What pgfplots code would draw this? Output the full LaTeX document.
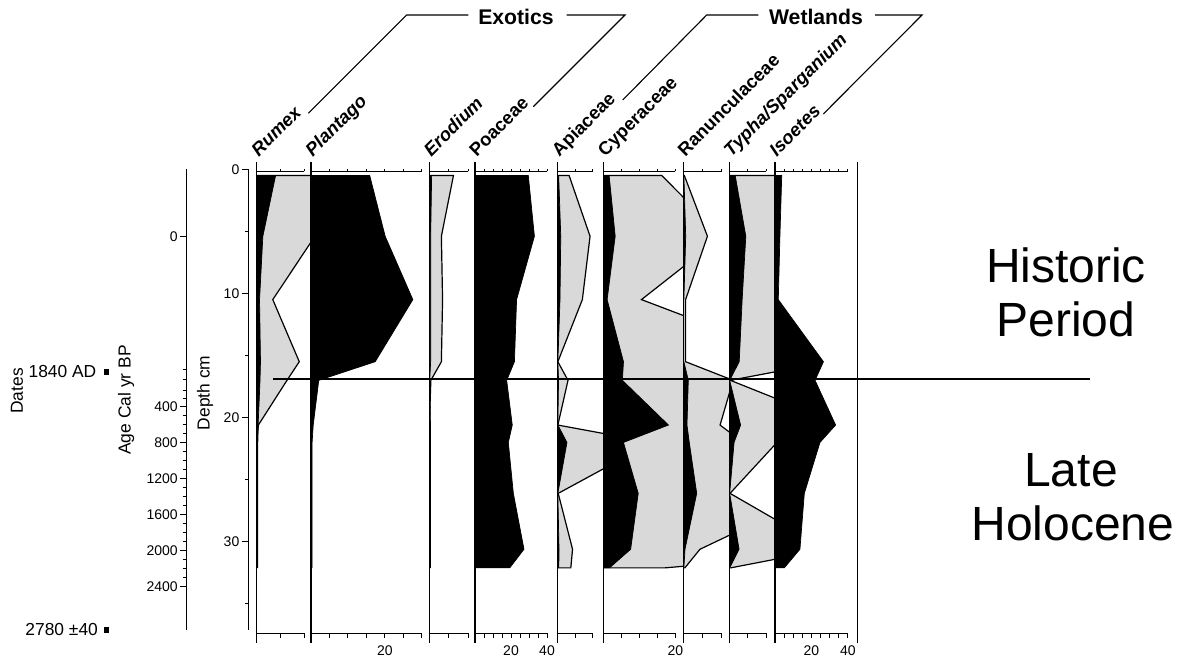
\documentclass[border=0pt]{standalone}
\usepackage{pgfplots}
\pgfplotsset{compat=1.18}
\usepackage{pgfplotstable}
\usepackage{fontspec}
\setmainfont{Liberation Sans}

\newcommand{\tickfont}{\fontsize{7}{8}\selectfont}
\newcommand{\labfont}{\fontsize{8.7}{10}\selectfont}
\newcommand{\taxfont}{\fontsize{9.2}{10}\selectfont\bfseries}

% depth (cm) | value | value x10 (exaggeration curve)
\pgfplotstableread{
d b g
0.5 0 0
0.5 4.0 42
5.4 1.3 12.3
10.5 0.6 3.4
15.5 0.8 9.0
17.0 0.7 6.4
20.6 0.3 0.35
22.0 0.25 0
26.1 0.25 0
30.6 0.25 0
32.1 0.25 0
32.1 0 0
}\rumex
\pgfplotstableread{
d b
0.5 0
0.5 15.9
5.4 20.1
10.5 27.6
15.5 17.4
17.0 2.1
20.6 0.6
22.0 0.3
26.1 0.3
30.6 0.3
32.1 0.3
32.1 0
}\plantago
\pgfplotstableread{
d b g
0.5 0 0
0.5 0.6 6.2
5.4 0.35 3.1
10.5 0.35 3.4
15.5 0.35 3.1
17.0 0.1 0.4
20.6 0.3 0
22.0 0.3 0
26.1 0.3 0
30.6 0.3 0
32.1 0.3 0
32.1 0 0
}\erodium
\pgfplotstableread{
d b
0.5 0
0.5 29.6
5.4 33.0
10.5 23.1
15.5 21.9
17.0 17.6
20.6 20.7
22.0 18.5
26.1 21.3
30.6 27.2
32.1 19.3
32.1 0
}\poaceae
\pgfplotstableread{
d b g
0.5 0 0
0.5 0.33 3.3
5.4 0.93 9.3
10.5 0.71 7.1
15.5 0.1 0.1
17.0 0.3 3.0
20.6 0.1 0.1
22.0 2.7 27
26.1 0.1 0.2
30.6 0.43 4.3
32.1 0.38 3.8
32.1 0 0
}\apiaceae
\pgfplotstableread{
d b g
0.5 0 0
0.5 1.62 16.2
5.4 3.3 33
10.5 1.06 10.6
15.5 5.6 56
17.0 5.3 53
20.6 18.1 181
22.0 5.6 56
26.1 9.7 97
30.6 7.6 76
32.1 1.71 17.1
32.1 0 0
}\cyperaceae
\pgfplotstableread{
d b g
0.5 0 0
0.5 0.15 0.26
5.4 0.63 6.3
10.5 0.15 0.6
15.5 0.15 0.6
17.0 1.3 13
20.6 0.96 9.6
22.0 1.56 15.6
26.1 3.5 35
30.6 0.44 4.35
32.1 0.15 0.4
32.1 0 0
}\ranunculaceae
\pgfplotstableread{
d b g
0.5 0 0
0.5 1.6 16
5.4 4.5 45
10.5 3.5 35
15.5 2.7 27
17.0 0.1 0.3
20.6 3.08 30.8
22.0 1.3 13
26.1 0.1 0.2
30.6 2.66 26.6
32.1 0.1 0.36
32.1 0 0
}\typha
\pgfplotstableread{
d b
0.5 0
0.5 3.7
5.4 2.7
10.5 1.8
15.5 26.6
17.0 22.0
20.6 33.3
22.0 24.7
26.1 16.1
30.6 13.7
32.1 5.1
32.1 0
}\isoetes

\pgfplotsset{
  panel/.style={anchor=north west, hide axis, clip mode=individual,
    y dir=reverse, ymin=0, ymax=37.5, y=6.21pt, xmin=0},
  black curve/.style={fill=black, draw=black, line width=0.35pt},
  grey curve/.style={fill=black!15, draw=black, line width=0.6pt},
  scale axis/.style={anchor=north west, x=1pt, xmin=0, xmax=1,
    y=6.21pt, y dir=reverse, ymin=0, ymax=37.1,
    axis x line=none, axis y line=left, ytick pos=left,
    axis line style={line width=0.6pt,-}, tick align=outside,
    tick style={line width=0.5pt, black},
    yticklabel style={font=\tickfont, inner sep=1pt}},
}

% baseline, top and bottom scale bars of one panel
\newcommand{\panelframe}[2]{%
  \draw[line width=0.55pt] (axis cs:0,-0.6) -- (axis cs:0,38.17);
  \draw[line width=0.5pt] (axis cs:0,0.185) -- (axis cs:#1,0.185);
  \draw[line width=0.5pt] (axis cs:0,37.37) -- (axis cs:#1,37.37);
  \pgfplotsinvokeforeach{#2}{%
    \draw[line width=0.5pt] (axis cs:##1,0.185) -- ++(0pt,1.3pt);
    \draw[line width=0.5pt] (axis cs:##1,37.37) -- ++(0pt,-2.5pt);
  }%
}
\newcommand{\botlabel}[1]{\node[font=\tickfont, anchor=north, inner sep=0pt] at (axis cs:#1,38.3) {#1};}

\begin{document}
\begin{tikzpicture}
\path[use as bounding box] (0,0) rectangle (594pt,328.5pt);

% depth scale
\begin{axis}[scale axis, at={(124.15pt,243.9pt)},
  ytick={0,10,20,30}, yticklabels={0,10,20,30}, minor ytick={5,15,25,35},
  major tick length=3.3pt, minor tick length=1.7pt]
\end{axis}

% calibrated age scale
\begin{axis}[scale axis, at={(93.35pt,243.9pt)},
  ytick={5.43,19.12,22.02,24.89,27.84,30.72,33.62},
  yticklabels={0,400,800,1200,1600,2000,2400},
  minor ytick={16.11,16.97,17.78,18.45,19.85,20.57,21.30,22.74,23.45,24.17,25.63,26.37,27.10,28.56,29.28,30.0,31.44,32.17,32.89},
  major tick length=3.3pt, minor tick length=2pt]
\end{axis}

% dated levels
\begin{axis}[anchor=north west, at={(53.1pt,243.9pt)}, hide axis, clip=false,
  x=1pt, xmin=0, xmax=1, y=6.21pt, y dir=reverse, ymin=0, ymax=37.1]
\addplot[only marks, mark=square*, mark size=1.1pt, black] coordinates {(0,16.33) (0,37.1)};
\end{axis}

% Rumex
\begin{axis}[panel, at={(128.35pt,243.9pt)}, x=2.365pt, xmax=11.42]
\addplot[grey curve] table[x=g,y=d] {\rumex};
\addplot[black curve] table[x=b,y=d] {\rumex};
\panelframe{10}{0,5,10}
\end{axis}

% Plantago
\begin{axis}[panel, at={(155.5pt,243.9pt)}, x=1.845pt, xmax=32.06]
\addplot[black curve] table[x=b,y=d] {\plantago};
\panelframe{30}{0,5,...,30}
\botlabel{20}
\end{axis}

% Erodium
\begin{axis}[panel, at={(214.65pt,243.9pt)}, x=1.95pt, xmax=11.72]
\addplot[grey curve] table[x=g,y=d] {\erodium};
\addplot[black curve] table[x=b,y=d] {\erodium};
\panelframe{10}{0,5,10}
\end{axis}

% Poaceae
\begin{axis}[panel, at={(237.5pt,243.9pt)}, x=0.9pt, xmax=45.9]
\addplot[black curve] table[x=b,y=d] {\poaceae};
\panelframe{40}{0,5,...,40}
\botlabel{20}\botlabel{40}
\end{axis}

% Apiaceae
\begin{axis}[panel, at={(278.75pt,243.9pt)}, x=1.75pt, xmax=13.1]
\addplot[grey curve] table[x=g,y=d] {\apiaceae};
\addplot[black curve] table[x=b,y=d] {\apiaceae};
\panelframe{10}{0,5,10}
\end{axis}

% Cyperaceae
\begin{axis}[panel, at={(301.65pt,243.9pt)}, x=1.8pt, xmax=22.2]
\addplot[grey curve] table[x=g,y=d] {\cyperaceae};
\addplot[black curve] table[x=b,y=d] {\cyperaceae};
\panelframe{20}{0,5,...,20}
\botlabel{20}
\end{axis}

% Ranunculaceae
\begin{axis}[panel, at={(341.65pt,243.9pt)}, x=1.915pt, xmax=12.0]
\addplot[grey curve] table[x=g,y=d] {\ranunculaceae};
\addplot[black curve] table[x=b,y=d] {\ranunculaceae};
\panelframe{10}{0,5,10}
\end{axis}

% Typha/Sparganium
\begin{axis}[panel, at={(364.65pt,243.9pt)}, x=1.835pt, xmax=12.45]
\addplot[grey curve] table[x=g,y=d] {\typha};
\addplot[black curve] table[x=b,y=d] {\typha};
\panelframe{10}{0,5,10}
\end{axis}

% Isoetes
\begin{axis}[panel, at={(387.5pt,243.9pt)}, x=0.91pt, xmax=45.2]
\addplot[black curve] table[x=b,y=d] {\isoetes};
\panelframe{40}{0,5,...,40}
\botlabel{20}\botlabel{40}
\end{axis}

% annotations, in a top-left based frame of half points
\begin{scope}[x=0.5pt,y=-0.5pt,shift={(0pt,328.5pt)}]
  \draw[line width=0.55pt] (857.8,161.7) -- (857.8,643.3);
  \draw[line width=0.6pt] (273,379) -- (1090,379);

  \node[rotate=90, font=\labfont] at (17,391) {Dates};
  \node[rotate=90, font=\labfont] at (126,400) {Age Cal yr BP};
  \node[rotate=90, font=\labfont] at (205,393) {Depth cm};
  \node[anchor=east, inner sep=0pt, font=\labfont] at (96.7,372) {1840 AD};
  \node[anchor=east, inner sep=0pt, font=\labfont] at (98.3,630) {2780 ±40};

  \node[rotate=45, anchor=base west, inner sep=0pt, font=\taxfont\itshape] at (258.5,157.5) {Rumex};
  \node[rotate=45, anchor=base west, inner sep=0pt, font=\taxfont\itshape] at (312.5,157.5) {Plantago};
  \node[rotate=45, anchor=base west, inner sep=0pt, font=\taxfont\itshape] at (431,157.5) {Erodium};
  \node[rotate=45, anchor=base west, inner sep=0pt, font=\taxfont] at (476.5,157.5) {Poaceae};
  \node[rotate=45, anchor=base west, inner sep=0pt, font=\taxfont] at (559,157.5) {Apiaceae};
  \node[rotate=45, anchor=base west, inner sep=0pt, font=\taxfont] at (605,157.5) {Cyperaceae};
  \node[rotate=45, anchor=base west, inner sep=0pt, font=\taxfont] at (685,157.5) {Ranunculaceae};
  \node[rotate=45, anchor=base west, inner sep=0pt, font=\taxfont\itshape] at (731,157.5) {Typha/Sparganium};
  \node[rotate=45, anchor=base west, inner sep=0pt, font=\taxfont\itshape] at (776.5,157.5) {Isoetes};

  \node[anchor=base, inner sep=0pt, font=\fontsize{10.6}{12}\selectfont\bfseries] at (516,24.5) {Exotics};
  \node[anchor=base, inner sep=0pt, font=\fontsize{10.6}{12}\selectfont\bfseries] at (816,24.5) {Wetlands};
  \draw[line width=0.55pt] (308.3,113.3) -- (406.7,15) -- (468.3,15);
  \draw[line width=0.55pt] (566.7,15) -- (625,15) -- (533.3,106.7);
  \draw[line width=0.55pt] (622.7,100) -- (706.7,15) -- (758.3,15);
  \draw[line width=0.55pt] (875,15) -- (922,15) -- (823.3,114);

  \node[anchor=base, inner sep=0pt, font=\fontsize{24}{28}\selectfont] at (1066,283) {Historic};
  \node[anchor=base, inner sep=0pt, font=\fontsize{24}{28}\selectfont] at (1066,337) {Period};
  \node[anchor=base, inner sep=0pt, font=\fontsize{24}{28}\selectfont] at (1071,487) {Late};
  \node[anchor=base, inner sep=0pt, font=\fontsize{24}{28}\selectfont] at (1073,541) {Holocene};
\end{scope}
\end{tikzpicture}
\end{document}
